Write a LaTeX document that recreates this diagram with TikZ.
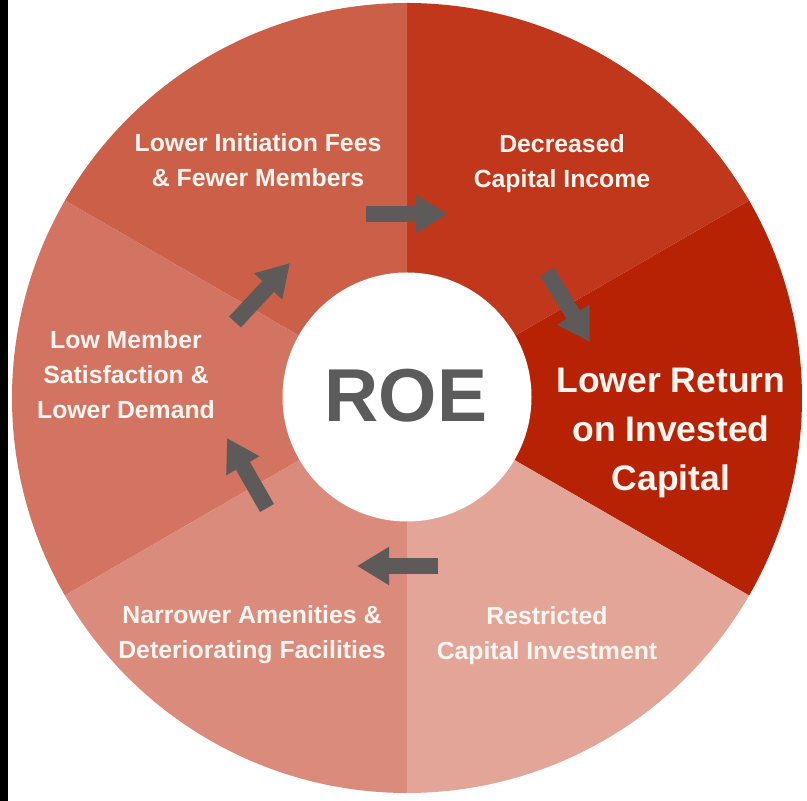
\documentclass[tikz,border=0pt]{standalone}
\usepackage{fontspec}
\setmainfont{Liberation Sans}
\usetikzlibrary{arrows.meta}
\definecolor{cRet}{HTML}{B72204}
\definecolor{cDec}{HTML}{C1371C}
\definecolor{cIni}{HTML}{CC5F48}
\definecolor{cLow}{HTML}{D37462}
\definecolor{cNar}{HTML}{DA8B7C}
\definecolor{cRes}{HTML}{E2A597}
\definecolor{cArr}{HTML}{5E5A59}
\definecolor{cRoe}{HTML}{5B5B5B}
\definecolor{cTxt}{HTML}{FFF6F2}
\tikzset{
  sectortext/.style={text=cTxt, font=\fontsize{24.8}{35}\selectfont\bfseries, align=center, inner sep=0pt},
  bigtext/.style={text=cTxt, font=\fontsize{35.5}{49}\selectfont\bfseries, align=center, inner sep=0pt},
  blockarrow/.style={draw=cArr, line width=16pt, -{Triangle[length=32pt,width=36pt]}}
}
\begin{document}
\begin{tikzpicture}[x=1pt,y=1pt]
\useasboundingbox (0,0) rectangle (807,801);
\fill[white] (0,0) rectangle (807,801);
\fill[black] (0,0) rectangle (8,801);
\coordinate (C) at (407,403);
% sectors
\fill[cRet] (C) -- ++(-30:395) arc[start angle=-30, end angle=30, radius=395] -- cycle;
\fill[cDec] (C) -- ++(30:395) arc[start angle=30, end angle=90, radius=395] -- cycle;
\fill[cIni] (C) -- ++(90:395) arc[start angle=90, end angle=150, radius=395] -- cycle;
\fill[cLow] (C) -- ++(150:395) arc[start angle=150, end angle=210, radius=395] -- cycle;
\fill[cNar] (C) -- ++(210:395) arc[start angle=210, end angle=270, radius=395] -- cycle;
\fill[cRes] (C) -- ++(270:395) arc[start angle=270, end angle=330, radius=395] -- cycle;
% center
\node[circle, fill=white, minimum size=249pt, inner sep=0pt] (roe) at (407,404) {};
\node[text=cRoe, font=\fontsize{75}{80}\selectfont\bfseries, inner sep=0pt] (roetxt) at (406,405) {ROE};
% labels
\node[sectortext] (ini) at (258,641) {Lower Initiation Fees\\\& Fewer Members};
\node[sectortext] (dec) at (562,637) {Decreased\\Capital Income};
\node[bigtext] (ret) at (671,368) {Lower Return\\on Invested\\Capital};
\node[sectortext] (res) at (547,165) {Restricted\\Capital Investment};
\node[sectortext] (nar) at (252,166) {Narrower Amenities \&\\Deteriorating Facilities};
\node[sectortext] (low) at (126,426) {Low Member\\Satisfaction \&\\Lower Demand};
% arrows
\coordinate (a1s) at (366,587); \coordinate (a1e) at (448,587);
\coordinate (a2s) at (547,529); \coordinate (a2e) at (590,459);
\coordinate (a3s) at (438,235); \coordinate (a3e) at (357,235);
\coordinate (a4s) at (267,293); \coordinate (a4e) at (227,363);
\coordinate (a5s) at (235,479); \coordinate (a5e) at (290,538);
\draw[blockarrow] (a1s) -- (a1e);
\draw[blockarrow] (a2s) -- (a2e);
\draw[blockarrow] (a3s) -- (a3e);
\draw[blockarrow] (a4s) -- (a4e);
\draw[blockarrow] (a5s) -- (a5e);
\end{tikzpicture}
\end{document}
